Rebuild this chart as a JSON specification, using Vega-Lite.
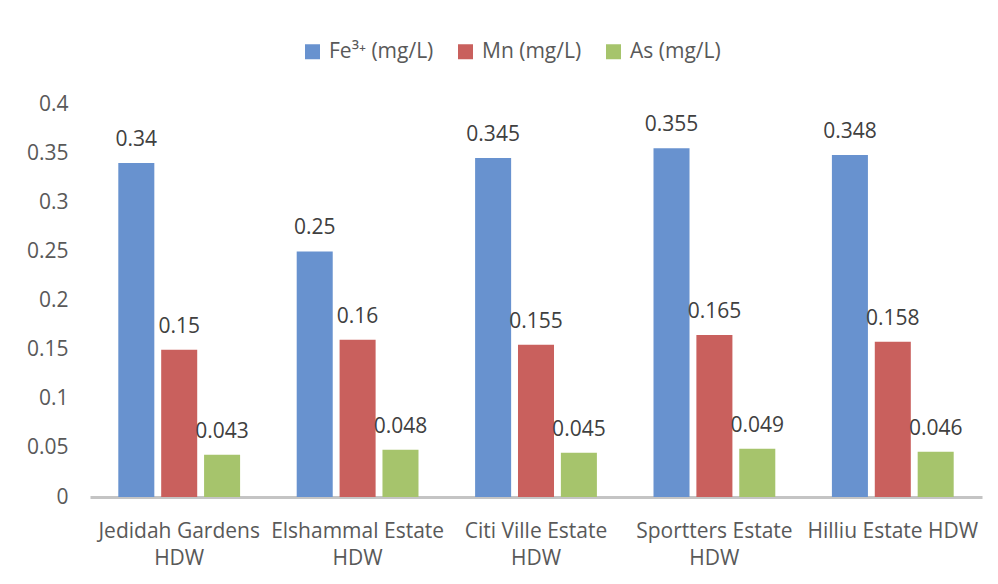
{
  "$schema": "https://vega.github.io/schema/vega-lite/v6.json",
  "width": 892,
  "height": 393,
  "autosize": {"type": "none"},
  "padding": {"left": 90, "top": 104, "right": 16, "bottom": 87},
  "background": "white",
  "config": {
    "view": {"stroke": null},
    "font": "Open Sans",
    "text": {"font": "Open Sans"}
  },
  "data": {
    "values": [
      {"site": "Jedidah Gardens HDW", "param": "Fe³⁺ (mg/L)", "value": 0.34},
      {"site": "Jedidah Gardens HDW", "param": "Mn (mg/L)", "value": 0.15},
      {"site": "Jedidah Gardens HDW", "param": "As (mg/L)", "value": 0.043},
      {"site": "Elshammal Estate HDW", "param": "Fe³⁺ (mg/L)", "value": 0.25},
      {"site": "Elshammal Estate HDW", "param": "Mn (mg/L)", "value": 0.16},
      {"site": "Elshammal Estate HDW", "param": "As (mg/L)", "value": 0.048},
      {"site": "Citi Ville Estate HDW", "param": "Fe³⁺ (mg/L)", "value": 0.345},
      {"site": "Citi Ville Estate HDW", "param": "Mn (mg/L)", "value": 0.155},
      {"site": "Citi Ville Estate HDW", "param": "As (mg/L)", "value": 0.045},
      {"site": "Sportters Estate HDW", "param": "Fe³⁺ (mg/L)", "value": 0.355},
      {"site": "Sportters Estate HDW", "param": "Mn (mg/L)", "value": 0.165},
      {"site": "Sportters Estate HDW", "param": "As (mg/L)", "value": 0.049},
      {"site": "Hilliu Estate HDW", "param": "Fe³⁺ (mg/L)", "value": 0.348},
      {"site": "Hilliu Estate HDW", "param": "Mn (mg/L)", "value": 0.158},
      {"site": "Hilliu Estate HDW", "param": "As (mg/L)", "value": 0.046}
    ]
  },
  "encoding": {
    "x": {
      "field": "site",
      "type": "nominal",
      "sort": null,
      "scale": {"paddingInner": 0, "paddingOuter": 0},
      "axis": {
        "title": null,
        "labelAngle": 0,
        "labelFontSize": 21,
        "labelColor": "#595959",
        "labelPadding": 23,
        "labelLineHeight": 27,
        "labelExpr": "datum.value == 'Hilliu Estate HDW' ? datum.value : [replace(datum.value, ' HDW', ''), 'HDW']",
        "ticks": false,
        "domainColor": "#c4c4c4",
        "domainWidth": 3,
        "labelLimit": 300
      }
    },
    "xOffset": {
      "field": "param",
      "type": "nominal",
      "sort": ["Fe³⁺ (mg/L)", "Mn (mg/L)", "As (mg/L)"],
      "scale": {"paddingInner": 0.16, "paddingOuter": 0.66}
    },
    "y": {
      "field": "value",
      "type": "quantitative",
      "scale": {"domain": [0, 0.4], "nice": false},
      "axis": {
        "title": null,
        "values": [0, 0.05, 0.1, 0.15, 0.2, 0.25, 0.3, 0.35, 0.4],
        "format": "~g",
        "grid": false,
        "domain": false,
        "ticks": false,
        "labelFontSize": 21,
        "labelColor": "#595959",
        "labelPadding": 22
      }
    }
  },
  "layer": [
    {
      "mark": {"type": "bar", "stroke": null},
      "encoding": {
        "color": {
          "field": "param",
          "type": "nominal",
          "sort": ["Fe³⁺ (mg/L)", "Mn (mg/L)", "As (mg/L)"],
          "scale": {
            "domain": ["Fe³⁺ (mg/L)", "Mn (mg/L)", "As (mg/L)"],
            "range": ["#6892cf", "#c9605d", "#a6c46c"]
          },
          "legend": {
            "title": null,
            "orient": "none",
            "direction": "horizontal",
            "legendX": 212,
            "legendY": -63,
            "symbolType": "square",
            "symbolSize": 225,
            "symbolStrokeWidth": 0,
            "labelFontSize": 21,
            "labelColor": "#595959",
            "columnPadding": 21,
            "labelOffset": 6
          }
        }
      }
    },
    {
      "mark": {
        "type": "text",
        "baseline": "bottom",
        "dy": -13,
        "fontSize": 21,
        "color": "#404040"
      },
      "encoding": {
        "text": {"field": "value", "type": "quantitative", "format": "~g"}
      }
    }
  ]
}
